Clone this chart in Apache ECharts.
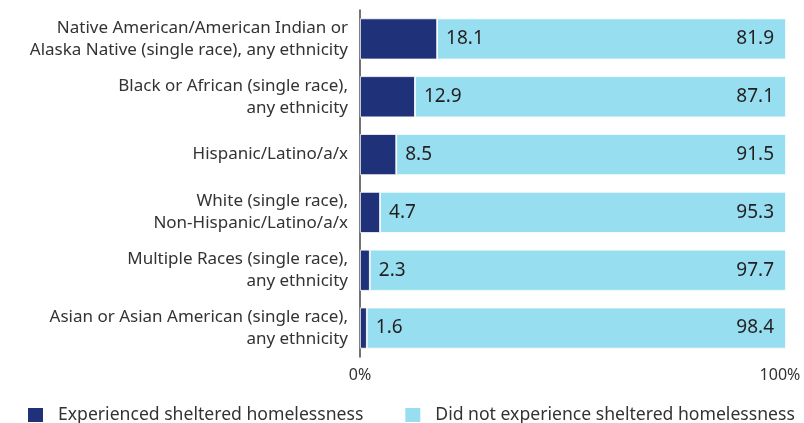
<!DOCTYPE html>
<html>
<head>
<meta charset="utf-8">
<script src="https://cdn.jsdelivr.net/npm/echarts@6/dist/echarts.min.js"></script>
<style>
  html, body { margin: 0; padding: 0; background: #fff; }
  #chart { width: 804px; height: 423px; }
</style>
</head>
<body>
<div id="chart"></div>
<script>
  const categories = [
    'Native American/American Indian or\nAlaska Native (single race), any ethnicity',
    'Black or African (single race),\nany ethnicity',
    'Hispanic/Latino/a/x',
    'White (single race),\nNon-Hispanic/Latino/a/x',
    'Multiple Races (single race),\nany ethnicity',
    'Asian or Asian American (single race),\nany ethnicity'
  ];
  const experienced = [18.1, 12.9, 8.5, 4.7, 2.3, 1.6];
  const notExperienced = [81.9, 87.1, 91.5, 95.3, 97.7, 98.4];
  const seriesNames = ['Experienced sheltered homelessness', 'Did not experience sheltered homelessness'];

  const font = '"Noto Sans", sans-serif';
  const textColor = '#231f20';

  const chart = echarts.init(document.getElementById('chart'));
  chart.setOption({
    animation: false,
    textStyle: { fontFamily: font },
    grid: { left: 360, right: 18, top: 10, bottom: 66 },
    legend: {
      left: 26,
      top: 406,
      padding: 0,
      itemWidth: 17,
      itemHeight: 16,
      itemGap: 40,
      icon: 'rect',
      textStyle: { fontSize: 17.6, color: '#333', fontFamily: font, padding: [0, 0, 0, 9] }
    },
    xAxis: {
      type: 'value',
      min: 0,
      max: 100,
      interval: 100,
      splitLine: { show: false },
      axisLine: { show: false },
      axisTick: { show: false },
      axisLabel: {
        formatter: v => (v === 100 ? '{r|100%}' : v + '%'),
        fontSize: 16,
        color: '#333',
        margin: 10,
        fontFamily: font,
        rich: { r: { fontSize: 16, color: '#333', fontFamily: font, padding: [0, 12, 0, 0] } }
      }
    },
    yAxis: {
      type: 'category',
      data: categories,
      inverse: true,
      axisLine: { show: true, lineStyle: { color: '#444', width: 1.5 } },
      axisTick: { show: false },
      axisLabel: { fontSize: 17, color: '#333', lineHeight: 22, margin: 12, fontFamily: font }
    },
    series: [
      {
        name: seriesNames[0],
        type: 'bar',
        stack: 'total',
        data: experienced,
        barCategoryGap: '29%',
        itemStyle: { color: '#1f3178', borderColor: '#fff', borderWidth: 0.8 },
        label: { show: true, position: 'right', distance: 9, fontSize: 19, color: textColor, fontFamily: font }
      },
      {
        name: seriesNames[1],
        type: 'bar',
        stack: 'total',
        data: notExperienced,
        itemStyle: { color: '#97dff0', borderColor: '#fff', borderWidth: 0.8 },
        label: { show: true, position: 'insideRight', distance: 12, fontSize: 19, color: textColor, fontFamily: font }
      }
    ]
  });
</script>
</body>
</html>
